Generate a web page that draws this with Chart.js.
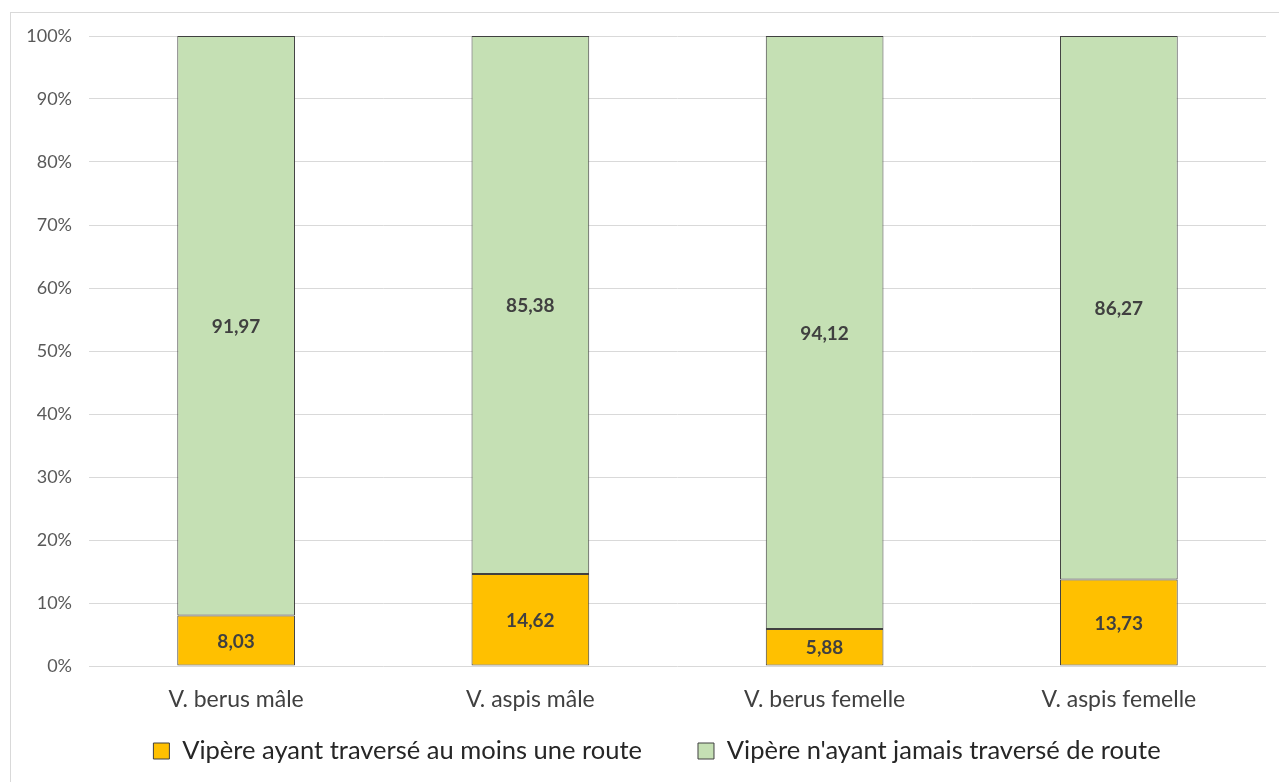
<!DOCTYPE html>
<html>
<head>
<meta charset="utf-8">
<script src="https://cdn.jsdelivr.net/npm/chart.js@4/dist/chart.umd.min.js"></script>
<style>
  html, body { margin: 0; padding: 0; background: #fff; overflow: hidden; }
  #frame { position: absolute; left: 10px; top: 12px; width: 1300px; height: 800px; border: 1px solid #d9d9d9; }
  #c { position: absolute; left: 0; top: 0; }
</style>
</head>
<body>
<div id="frame"></div>
<canvas id="c" width="1279" height="782"></canvas>
<script>
const categories = ["V. berus mâle", "V. aspis mâle", "V. berus femelle", "V. aspis femelle"];
const crossedValues = [8.03, 14.62, 5.88, 13.73];
const neverCrossedValues = [91.97, 85.38, 94.12, 86.27];
const seriesNames = ["Vipère ayant traversé au moins une route", "Vipère n'ayant jamais traversé de route"];
const yTicks = [0, 10, 20, 30, 40, 50, 60, 70, 80, 90, 100];

const FONT = "Lato, 'Open Sans', sans-serif";

const valueLabels = {
  id: 'valueLabels',
  afterDatasetsDraw(chart) {
    const ctx = chart.ctx;
    ctx.save();
    ctx.font = "bold 19px " + FONT;
    ctx.fillStyle = '#404040';
    ctx.textAlign = 'center';
    ctx.textBaseline = 'middle';
    chart.data.datasets.forEach((ds, di) => {
      const meta = chart.getDatasetMeta(di);
      meta.data.forEach((bar, i) => {
        const p = bar.getProps(['x', 'y', 'base'], true);
        const yc = (p.y + p.base) / 2;
        ctx.fillText(ds.data[i].toFixed(2).replace('.', ','), p.x, yc + 1);
      });
    });
    ctx.restore();
  }
};

const legendPlace = {
  id: 'legendPlace',
  afterLayout(chart) {
    const lg = chart.legend;
    if (!lg || !lg.lineWidths) return;
    const p = lg.options.labels.padding;
    const itemH = Math.max(lg.options.labels.boxHeight, lg.options.labels.font.size);
    const newTop = 751 - p - itemH / 2;
    lg.top = newTop; lg.bottom = newTop + p + itemH + 20;
    const start = (lg.left + p + lg.right - lg.lineWidths[0]) / 2;
    const visW = lg.lineWidths[0] - p;
    const d = (657 - visW / 2) - start;
    lg.left += d; lg.right += d;
  }
};

new Chart(document.getElementById('c'), {
  type: 'bar',
  data: {
    labels: categories,
    datasets: [
      { label: seriesNames[0], data: crossedValues, backgroundColor: '#FFC000', borderColor: '#404040', borderWidth: 1, borderSkipped: false },
      { label: seriesNames[1], data: neverCrossedValues, backgroundColor: '#C5E0B4', borderColor: '#404040', borderWidth: 1, borderSkipped: false }
    ]
  },
  options: {
    responsive: false,
    animation: false,
    devicePixelRatio: 1,
    categoryPercentage: 0.4,
    barPercentage: 1,
    layout: { padding: { top: 36, left: 0, right: 13, bottom: 28 } },
    plugins: {
      tooltip: { enabled: false },
      legend: {
        position: 'bottom',
        maxHeight: 40,
        labels: {
          font: { family: FONT, size: 25.5 },
          color: '#262626',
          boxWidth: 16,
          boxHeight: 16,
          padding: 56
        }
      }
    },
    scales: {
      x: {
        stacked: true,
        grid: { display: false, drawTicks: false },
        border: { display: false },
        ticks: { font: { family: FONT, size: 23 }, color: '#404040', padding: 20, maxRotation: 0, autoSkip: false },
        afterFit(s) { s.height = 48; }
      },
      y: {
        stacked: true,
        min: 0,
        max: 100,
        afterBuildTicks(s) { s.ticks = yTicks.map(v => ({ value: v })); },
        grid: { color: '#d9d9d9', lineWidth: 1, drawTicks: false, tickLength: 0 },
        border: { display: false },
        ticks: {
          font: { family: FONT, size: 18 },
          color: '#595959',
          padding: 17,
          callback: v => v + '%'
        },
        afterFit(s) { s.width = 89; }
      }
    }
  },
  plugins: [valueLabels, legendPlace]
});
</script>
</body>
</html>
